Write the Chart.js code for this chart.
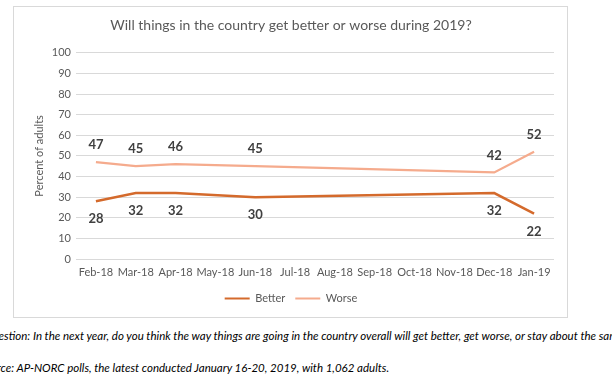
<!DOCTYPE html>
<html>
<head>
<meta charset="utf-8">
<script src="https://cdn.jsdelivr.net/npm/chart.js@4.4.0/dist/chart.umd.min.js"></script>
<style>
  html, body { margin: 0; padding: 0; background: #fff; overflow: hidden; width: 612px; height: 374px; }
  #box { position: absolute; left: 13px; top: 6px; width: 555px; height: 312px; border: 1px solid #d9d9d9; box-sizing: border-box; }
  #box canvas { position: absolute; left: 0; top: 0; }
  .nota { position: absolute; white-space: nowrap; font-family: Lato, sans-serif; font-style: italic; font-size: 11.5px; color: #000; }
</style>
</head>
<body>
<div id="box"><canvas id="grafico" width="553" height="310"></canvas></div>
<div class="nota" style="left:-16px; top:329px;">Question: In the next year, do you think the way things are going in the country overall will get better, get worse, or stay about the same?</div>
<div class="nota" style="left:-21px; top:361px;">Source: AP-NORC polls, the latest conducted January 16-20, 2019, with 1,062 adults.</div>
<script>
// Dados
const meses = ['Feb-18', 'Mar-18', 'Apr-18', 'May-18', 'Jun-18', 'Jul-18', 'Aug-18', 'Sep-18', 'Oct-18', 'Nov-18', 'Dec-18', 'Jan-19'];
const melhor = [28, 32, 32, null, 30, null, null, null, null, null, 32, 22];
const pior = [47, 45, 46, null, 45, null, null, null, null, null, 42, 52];
const ticksY = [0, 10, 20, 30, 40, 50, 60, 70, 80, 90, 100];

const corMelhor = '#D46A2C';
const corPior = '#F5AB8D';
const fonte = 'Lato, "Open Sans", sans-serif';

// Rótulos de dados (acima para Worse, abaixo para Better)
const rotulos = {
    id: 'rotulos',
    afterDatasetsDraw(chart) {
        const ctx = chart.ctx;
        ctx.save();
        ctx.font = 'bold 13px ' + fonte;
        ctx.fillStyle = '#404040';
        ctx.textAlign = 'center';
        ctx.textBaseline = 'middle';
        chart.data.datasets.forEach((ds, i) => {
            const meta = chart.getDatasetMeta(i);
            const desloc = i === 0 ? 18 : -17;
            meta.data.forEach((pt, j) => {
                if (ds.data[j] == null) return;
                ctx.fillText(ds.data[j], pt.x, pt.y + desloc);
            });
        });
        ctx.restore();
    }
};

const ctx = document.getElementById('grafico').getContext('2d');
new Chart(ctx, {
    type: 'line',
    data: {
        labels: meses,
        datasets: [
            { label: 'Better', data: melhor, borderColor: corMelhor, backgroundColor: corMelhor, borderWidth: 2.5 },
            { label: 'Worse', data: pior, borderColor: corPior, backgroundColor: corPior, borderWidth: 2.25 }
        ]
    },
    options: {
        responsive: false,
        animation: false,
        spanGaps: true,
        elements: { point: { radius: 0 }, line: { tension: 0 } },
        layout: { padding: { top: 0, right: 13, bottom: 3, left: 14 } },
        plugins: {
            title: {
                display: true,
                text: 'Will things in the country get better or worse during 2019?',
                color: '#595959',
                font: { family: fonte, size: 14, weight: 'normal' },
                padding: { top: 10, bottom: 19 }
            },
            legend: {
                position: 'bottom',
                labels: {
                    color: '#595959',
                    font: { family: fonte, size: 11 },
                    boxWidth: 25,
                    boxHeight: 2,
                    padding: 10,
                    generateLabels(chart) {
                        return chart.data.datasets.map((ds, i) => ({
                            text: ds.label,
                            fillStyle: ds.borderColor,
                            strokeStyle: ds.borderColor,
                            lineWidth: 0,
                            fontColor: '#595959',
                            datasetIndex: i
                        }));
                    }
                }
            },
            tooltip: { enabled: false }
        },
        scales: {
            x: {
                offset: true,
                grid: { display: false, drawTicks: false },
                border: { display: false },
                afterFit(scale) { scale.height = 24; },
                ticks: { color: '#595959', font: { family: fonte, size: 11 }, maxRotation: 0, autoSkip: false, padding: 7 }
            },
            y: {
                min: 0,
                max: 100,
                afterBuildTicks(scale) { scale.ticks = ticksY.map(v => ({ value: v })); },
                afterFit(scale) { scale.width = 48; },
                grid: { color: '#d9d9d9', lineWidth: 1, drawTicks: false },
                border: { display: false },
                ticks: { color: '#595959', font: { family: fonte, size: 11 }, padding: 5 },
                title: { display: true, text: 'Percent of adults', color: '#595959', font: { family: fonte, size: 11 }, padding: 5 }
            }
        }
    },
    plugins: [rotulos]
});
</script>
</body>
</html>
